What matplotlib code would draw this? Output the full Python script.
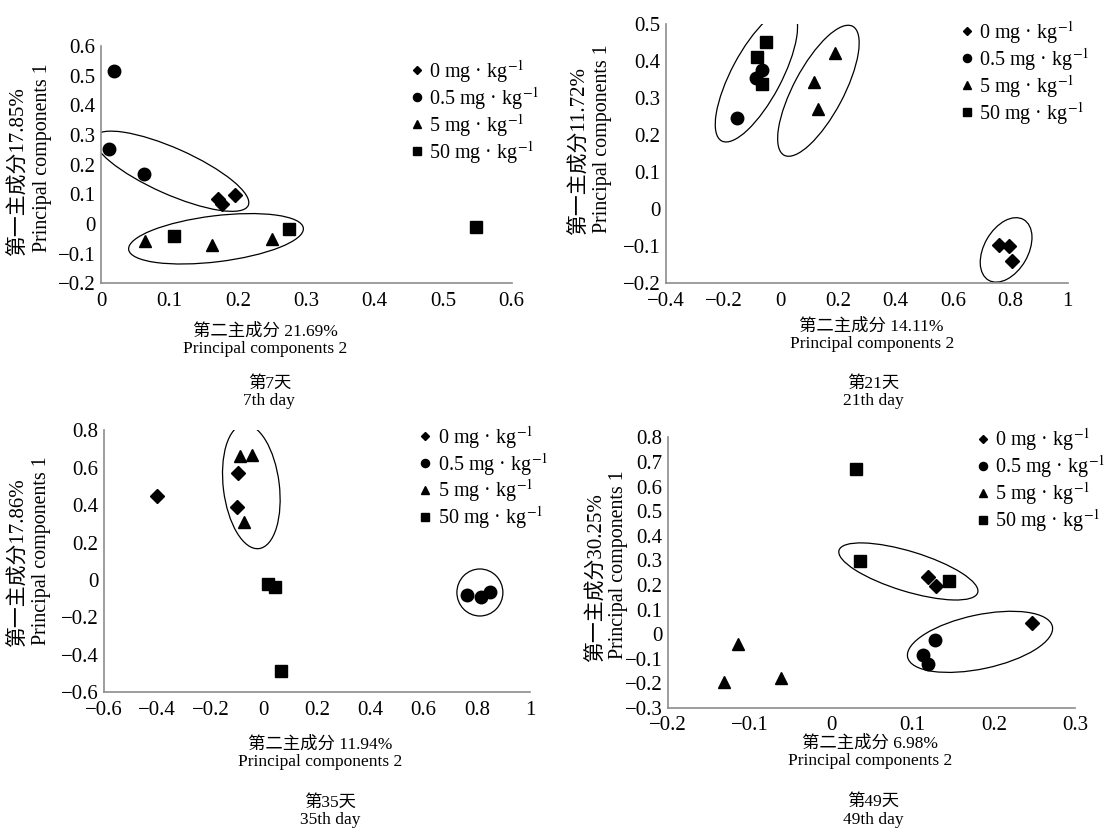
import matplotlib
matplotlib.use("Agg")
import matplotlib.pyplot as plt
from matplotlib.patches import Ellipse
from matplotlib.transforms import ScaledTranslation
from matplotlib.ticker import FuncFormatter, MultipleLocator
from matplotlib.lines import Line2D

plt.rcParams['font.family'] = ['Liberation Serif', 'Noto Sans CJK SC']
plt.rcParams['mathtext.fontset'] = 'stix'

groups = ['0 mg · kg$^{-1}$', '0.5 mg · kg$^{-1}$', '5 mg · kg$^{-1}$', '50 mg · kg$^{-1}$']
markers = ['D', 'o', '^', 's']
msizes = [7, 9, 9, 8.5]

# day 7
d7_0 = [(0.171, 0.085), (0.177, 0.069), (0.196, 0.097)]
d7_05 = [(0.019, 0.517), (0.012, 0.253), (0.063, 0.170)]
d7_5 = [(0.064, -0.057), (0.162, -0.070), (0.250, -0.050)]
d7_50 = [(0.106, -0.039), (0.274, -0.017), (0.548, -0.011)]
# day 21
d21_0 = [(0.760, -0.097), (0.795, -0.100), (0.805, -0.140)]
d21_05 = [(-0.154, 0.246), (-0.087, 0.355), (-0.066, 0.376)]
d21_5 = [(0.190, 0.421), (0.117, 0.345), (0.129, 0.271)]
d21_50 = [(-0.051, 0.453), (-0.084, 0.410), (-0.066, 0.339)]
# day 35
d35_0 = [(-0.400, 0.447), (-0.097, 0.569), (-0.101, 0.389)]
d35_05 = [(0.761, -0.079), (0.815, -0.089), (0.849, -0.063)]
d35_5 = [(-0.088, 0.664), (-0.046, 0.669), (-0.073, 0.310)]
d35_50 = [(0.016, -0.019), (0.040, -0.040), (0.063, -0.487)]
# day 49
d49_0 = [(0.119, 0.234), (0.129, 0.194), (0.247, 0.045)]
d49_05 = [(0.128, -0.023), (0.113, -0.085), (0.119, -0.120)]
d49_5 = [(-0.114, -0.040), (-0.132, -0.195), (-0.062, -0.178)]
d49_50 = [(0.031, 0.670), (0.036, 0.296), (0.145, 0.215)]

pc1 = ['17.85%', '11.72%', '17.86%', '30.25%']
pc2 = ['21.69%', '14.11%', '11.94%', '6.98%']
days = ['7', '21', '35', '49']

panels = [
    dict(data=[d7_0, d7_05, d7_5, d7_50], rect=[0.091, 0.660, 0.370, 0.2845],
         xlim=(0, 0.6), xstep=0.1, ylim=(-0.2, 0.6), ystep=0.1,
         ell=[(0.103, 0.178, 168, 46, -24), (0.168, -0.05, 176, 46, 7)],
         leg=(0.755, 0.95), ycn=(-0.1995, 0.473), yen=(-0.1436, 0.53),
         xlab=(0.40, -0.24), tit=(0.41, -0.46)),
    dict(data=[d21_0, d21_05, d21_5, d21_50], rect=[0.600, 0.660, 0.362, 0.311],
         xlim=(-0.4, 1.0), xstep=0.2, ylim=(-0.2, 0.5), ystep=0.1,
         ell=[(-0.085, 0.361, 148, 50, 62), (0.131, 0.32, 146, 50, 62),
              (0.785, -0.11, 70, 44, 60)],
         leg=(0.735, 1.02), ycn=(-0.214, 0.51), yen=(-0.159, 0.556),
         xlab=(0.512, -0.20), tit=(0.515, -0.42)),
    dict(data=[d35_0, d35_05, d35_5, d35_50], rect=[0.0937, 0.169, 0.384, 0.3145],
         xlim=(-0.6, 1.0), xstep=0.2, ylim=(-0.6, 0.8), ystep=0.2,
         ell=[(-0.047, 0.499, 125, 56, 97), (0.811, -0.067, 46, 47, 0)],
         leg=(0.74, 1.025), ycn=(-0.1995, 0.496), yen=(-0.1455, 0.542),
         xlab=(0.507, -0.233), tit=(0.53, -0.454)),
    dict(data=[d49_0, d49_05, d49_5, d49_50], rect=[0.602, 0.150, 0.3667, 0.325],
         xlim=(-0.2, 0.3), xstep=0.1, ylim=(-0.3, 0.8), ystep=0.1,
         ell=[(0.095, 0.255, 145, 40, -17), (0.183, -0.031, 148, 54, 12)],
         leg=(0.758, 1.04), ycn=(-0.177, 0.483), yen=(-0.123, 0.528),
         xlab=(0.496, -0.165), tit=(0.504, -0.38)),
]


def fmt(v, p):
    v = round(v, 3)
    if v == 0:
        return '0'
    return f'{v:g}'.replace('-', '\u2212')


fig = plt.figure(figsize=(11.1, 8.33), dpi=100)
fs = 12.5

for i, pn in enumerate(panels):
    ax = fig.add_axes(pn['rect'])
    for pts, m, ms in zip(pn['data'], markers, msizes):
        ax.plot([p[0] for p in pts], [p[1] for p in pts], linestyle='none',
                marker=m, markersize=ms, color='black', clip_on=False)
    ax.set_xlim(pn['xlim'])
    ax.set_ylim(pn['ylim'])
    ax.xaxis.set_major_locator(MultipleLocator(pn['xstep']))
    ax.yaxis.set_major_locator(MultipleLocator(pn['ystep']))
    ax.xaxis.set_major_formatter(FuncFormatter(fmt))
    ax.yaxis.set_major_formatter(FuncFormatter(fmt))
    ax.tick_params(axis='x', length=0, labelsize=15, pad=6)
    ax.tick_params(axis='y', length=0, labelsize=15, pad=4)
    for s in ['top', 'right']:
        ax.spines[s].set_visible(False)
    for s in ['left', 'bottom']:
        ax.spines[s].set_color('#8c8c8c')
        ax.spines[s].set_linewidth(1.2)

    for cx, cy, w, h, a in pn['ell']:
        tr = fig.dpi_scale_trans + ScaledTranslation(cx, cy, ax.transData)
        ax.add_patch(Ellipse((0, 0), w / 100, h / 100, angle=a, transform=tr,
                             fill=False, edgecolor='black', linewidth=0.9))

    handles = [Line2D([], [], linestyle='none', marker=m, markersize=ms * 0.65,
                      color='black') for m, ms in zip(markers, msizes)]
    ax.legend(handles, groups, loc='upper left', bbox_to_anchor=pn['leg'],
              frameon=False, fontsize=14.5, handlelength=0.6, handletextpad=0.3,
              labelspacing=0.0, borderpad=0, borderaxespad=0)

    ax.text(pn['ycn'][0], pn['ycn'][1], '第一主成分' + pc1[i],
            transform=ax.transAxes, rotation=90, ha='center', va='center',
            fontsize=15)
    ax.text(pn['yen'][0], pn['yen'][1], 'Principal components 1',
            transform=ax.transAxes, rotation=90, ha='center', va='center',
            fontsize=14.4)
    ax.text(pn['xlab'][0], pn['xlab'][1],
            '第二主成分 ' + pc2[i] + '\nPrincipal components 2',
            transform=ax.transAxes, ha='center', va='center',
            fontsize=fs, linespacing=1.1, multialignment='center')
    ax.text(pn['tit'][0], pn['tit'][1],
            '第' + days[i] + '天\n' + days[i] + 'th day',
            transform=ax.transAxes, ha='center', va='center',
            fontsize=fs, linespacing=1.1, multialignment='center')

fig.savefig('out.png', dpi=100)
